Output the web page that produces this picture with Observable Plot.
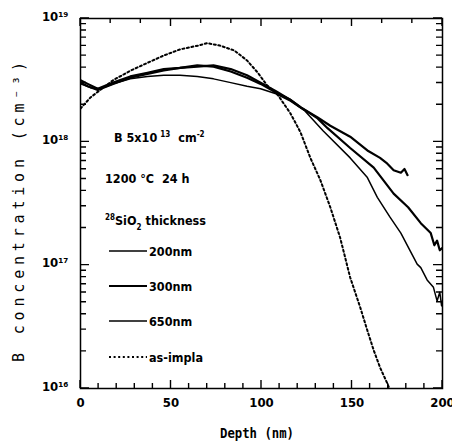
<!DOCTYPE html>
<html><head><meta charset="utf-8">
<script src="https://cdn.jsdelivr.net/npm/d3@7"></script>
<script src="https://cdn.jsdelivr.net/npm/@observablehq/plot@0.6"></script>
<style>
body{margin:0;background:#fff}
#chart svg{font-family:"DejaVu Sans Condensed","DejaVu Sans",sans-serif;background:#fff}
</style>
</head><body><div id="chart"></div>
<script>
// ---- data ----
const seriesNames = ["200nm", "300nm", "650nm", "as-impla"];

const depth200 = [0, 4, 9.5, 18, 27.5, 37, 46, 55, 64.5, 73.5, 83, 92, 99.5, 108, 116, 121.5, 131, 138, 149, 158.5, 165.5, 169, 173, 177, 179, 180.7];
const conc200  = [3.16e18, 2.95e18, 2.69e18, 3.02e18, 3.39e18, 3.63e18, 3.89e18, 3.98e18, 4.17e18, 4.07e18, 3.72e18, 3.31e18, 2.95e18, 2.51e18, 2.19e18, 1.91e18, 1.58e18, 1.35e18, 1.10e18, 8.51e17, 7.41e17, 6.76e17, 5.89e17, 5.62e17, 6.03e17, 5.37e17];

const depth300 = [0, 4, 9.5, 18, 27.5, 37, 46, 55, 64.5, 73.5, 83, 92, 99.5, 108, 116, 121.5, 131, 136.5, 149, 162, 173, 181, 188, 193.5, 195.5, 197, 198.5, 200];
const conc300  = [3.02e18, 2.82e18, 2.63e18, 2.95e18, 3.31e18, 3.55e18, 3.80e18, 3.98e18, 4.07e18, 4.17e18, 3.89e18, 3.47e18, 3.02e18, 2.57e18, 2.19e18, 1.91e18, 1.55e18, 1.29e18, 8.91e17, 6.17e17, 3.80e17, 2.95e17, 2.19e17, 1.82e17, 1.45e17, 1.58e17, 1.32e17, 1.38e17];

const depth650 = [0, 5.5, 11, 18, 27.5, 37, 46, 55, 64.5, 73.5, 83, 92, 99.5, 108, 116, 124, 134, 149, 158.5, 164, 171, 177, 182, 186, 188, 191.5, 195, 197, 198.5, 199.5, 200];
const conc650  = [2.95e18, 2.75e18, 2.69e18, 2.95e18, 3.24e18, 3.39e18, 3.47e18, 3.47e18, 3.39e18, 3.24e18, 3.02e18, 2.82e18, 2.69e18, 2.45e18, 2.14e18, 1.78e18, 1.23e18, 7.41e17, 5.13e17, 3.55e17, 2.45e17, 1.82e17, 1.32e17, 1.02e17, 9.55e16, 7.59e16, 6.61e16, 5.13e16, 6.03e16, 4.68e16, 5.13e16];

const depthImpl = [0, 5.5, 18, 28, 37, 46, 55, 65, 70, 77, 85, 92, 98, 103, 109, 116, 121.5, 127, 132.5, 138, 143.5, 149, 154.5, 158.5, 162, 165.5, 169.5, 172];
const concImpl  = [1.86e18, 2.29e18, 3.16e18, 3.80e18, 4.37e18, 5.01e18, 5.62e18, 6.03e18, 6.31e18, 6.03e18, 5.50e18, 4.57e18, 3.63e18, 2.88e18, 2.40e18, 1.70e18, 1.20e18, 7.41e17, 4.90e17, 2.95e17, 1.66e17, 7.94e16, 4.57e16, 2.95e16, 2.04e16, 1.48e16, 1.10e16, 8.9e15];

const xTicks = [0, 50, 100, 150, 200];
const xTickLabels = ["0", "50", "100", "150", "200"];
const yTicks = [1e16, 1e17, 1e18, 1e19];
const yTickLabels = ["10¹⁶", "10¹⁷", "10¹⁸", "10¹⁹"];

// ---- build tables ----
function rowsOf(name, ds, cs) { return ds.map((d, i) => ({series: name, depth: d, conc: cs[i]})); }
const rows200 = rowsOf(seriesNames[0], depth200, conc200);
const rows300 = rowsOf(seriesNames[1], depth300, conc300);
const rows650 = rowsOf(seriesNames[2], depth650, conc650);
const rowsImpl = rowsOf(seriesNames[3], depthImpl, concImpl);

const minorY = [];
for (let e = 16; e < 19; e++) for (let m = 2; m <= 9; m++) minorY.push(m * Math.pow(10, e));
const minorX = d3.range(0, 201, 10).filter(d => d % 50 !== 0);
const topTicks = d3.range(0, 13).map(i => i * 200 / 12);
const topMajor = topTicks.filter((d, i) => i % 3 === 0);
const topMinor = topTicks.filter((d, i) => i % 3 !== 0);

const W = 452, H = 448, ML = 80, MR = 10, MT = 18, MB = 60;
const xDomain = [0, 200], yDomain = [1e16, 1e19];

const plot = Plot.plot({
  width: W, height: H,
  marginLeft: ML, marginRight: MR, marginTop: MT, marginBottom: MB,
  x: {domain: xDomain},
  y: {type: "log", domain: yDomain},
  marks: [
    Plot.line(rowsImpl, {x: "depth", y: "conc", stroke: "black", strokeWidth: 2, strokeDasharray: "2,2.6", clip: true}),
    Plot.line(rows650, {x: "depth", y: "conc", stroke: "black", strokeWidth: 1.5, clip: true}),
    Plot.line(rows300, {x: "depth", y: "conc", stroke: "black", strokeWidth: 2.2, clip: true}),
    Plot.line(rows200, {x: "depth", y: "conc", stroke: "black", strokeWidth: 2.2, clip: true}),
    Plot.frame({stroke: "black", strokeWidth: 1.5}),
    Plot.axisX({ticks: xTicks, tickFormat: d => xTickLabels[xTicks.indexOf(d)], tickSize: 0, tickPadding: 9, label: null, fontSize: 13, fontWeight: "bold", fill: "black"}),
    Plot.axisY({ticks: yTicks, tickFormat: d => yTickLabels[yTicks.indexOf(d)], tickSize: 0, tickPadding: 12, dy: -2, label: null, fontSize: 13, fontWeight: "bold", fill: "black"})
  ]
});
document.getElementById("chart").append(plot);

// ---- inward ticks, drawn with the same mapping as the plot's scales ----
const svg = d3.select(plot);
const fLeft = ML, fRight = W - MR, fTop = MT, fBottom = H - MB;
const px = d3.scaleLinear(xDomain, [fLeft, fRight]);
const py = d3.scaleLog(yDomain, [fBottom, fTop]);
let dPath = "";
const vt = (vals, len, y0, dir) => vals.forEach(v => { dPath += `M${px(v)},${y0}V${y0 + dir * len}`; });
const ht = (vals, len, x0, dir) => vals.forEach(v => { dPath += `M${x0},${py(v)}H${x0 + dir * len}`; });
vt(xTicks, 8, fBottom, -1); vt(minorX, 5, fBottom, -1);
vt(topMajor, 8, fTop, 1); vt(topMinor, 5, fTop, 1);
ht(yTicks, 9, fLeft, 1); ht(minorY, 6, fLeft, 1);
ht(yTicks, 9, fRight, -1); ht(minorY, 6, fRight, -1);
svg.append("path").attr("d", dPath).attr("fill", "none").attr("stroke", "black").attr("stroke-width", 1.4);

// ---- titles, annotations and legend ----
svg.append("text").attr("x", 257).attr("y", 438).attr("text-anchor", "middle")
  .attr("font-family", "DejaVu Sans Mono").attr("font-weight", "bold").attr("font-size", 14)
  .attr("textLength", 74).attr("lengthAdjust", "spacingAndGlyphs").text("Depth (nm)");
svg.append("text").attr("transform", "translate(24,212) rotate(-90)").attr("text-anchor", "middle")
  .attr("font-family", "DejaVu Sans Mono").attr("font-size", 15)
  .attr("textLength", 300).attr("lengthAdjust", "spacing").text("B concentration (cm⁻³)");

const ann = svg.append("g").attr("font-size", 12.5).attr("font-weight", "bold").attr("fill", "black").attr("text-anchor", "start");
const t1 = ann.append("text").attr("x", 114).attr("y", 142);
t1.append("tspan").text("B 5x10");
t1.append("tspan").attr("font-size", 8).attr("dy", -5).attr("dx", 3).text("13");
t1.append("tspan").attr("dy", 5).attr("dx", 8).text("cm");
t1.append("tspan").attr("font-size", 8).attr("dy", -5).text("-2");
ann.append("text").attr("x", 105).attr("y", 183).text("1200 °C  24 h");
const t3 = ann.append("text").attr("x", 105).attr("y", 225);
t3.append("tspan").attr("font-size", 8).attr("dy", -5).text("28");
t3.append("tspan").attr("dy", 5).text("SiO");
t3.append("tspan").attr("font-size", 8).attr("dy", 5).text("2");
t3.append("tspan").attr("dy", -5).attr("dx", 4).text("thickness");

const legendRows = [
  {name: seriesNames[0], y: 251, w: 1.6, dash: null},
  {name: seriesNames[1], y: 286, w: 2.2, dash: null},
  {name: seriesNames[2], y: 321, w: 1.4, dash: null},
  {name: seriesNames[3], y: 357, w: 1.8, dash: "2,2.6"}
];
legendRows.forEach(r => {
  svg.append("line").attr("x1", 109).attr("x2", 147).attr("y1", r.y).attr("y2", r.y)
    .attr("stroke", "black").attr("stroke-width", r.w).attr("stroke-dasharray", r.dash);
  ann.append("text").attr("x", 149).attr("y", r.y + 5).text(r.name);
});
</script>
</body></html>
